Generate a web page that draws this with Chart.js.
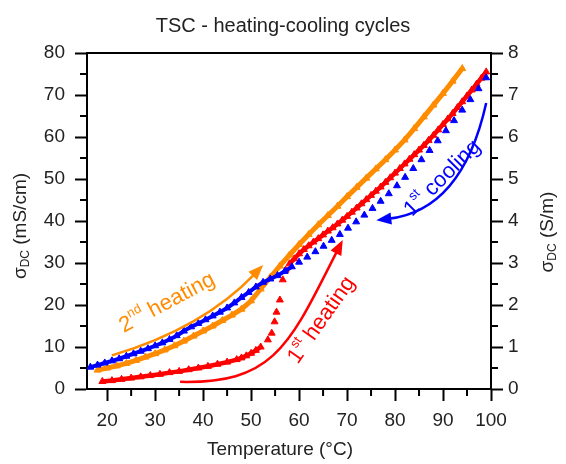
<!DOCTYPE html>
<html>
<head>
<meta charset="utf-8">
<script src="https://cdn.jsdelivr.net/npm/chart.js@4.4.0/dist/chart.umd.min.js"></script>
<style>
html, body { margin: 0; padding: 0; background: #fff; }
</style>
</head>
<body>
<canvas id="tscChart" width="566" height="464"></canvas>
<script>
// 1st heating (red)
const heat1T = [19, 21, 23, 25, 27, 29, 31, 33, 35, 37, 39, 41, 43, 45, 47, 48, 49, 50, 51, 52,
    53.5, 54.3, 54.9, 55.3, 56, 56.6, 57.2, 58, 59, 60, 61, 62, 63, 64, 65, 66, 67, 68, 69, 70,
    71, 72, 73, 74, 75, 76, 77, 78, 79, 80, 81, 82, 83, 84, 85, 86, 87, 88, 89, 90,
    91, 92, 93, 94, 95, 96, 97, 98, 99];
const heat1S = [1.8, 2.0, 2.3, 2.6, 2.9, 3.2, 3.5, 3.9, 4.2, 4.6, 5.0, 5.4, 5.9, 6.4, 7.0, 7.4, 7.9, 8.5, 9.2, 10.0,
    11.7, 13.3, 16.0, 18.3, 21.2, 26.0, 28.3, 29.8, 31.0, 32.2, 33.2, 34.1, 35.0, 35.8, 36.7, 37.6, 38.4, 39.3, 40.2, 41.1,
    42.1, 43.1, 44.1, 45.1, 46.1, 47.1, 48.1, 49.2, 50.3, 51.4, 52.5, 53.6, 54.7, 55.8, 56.9, 58.0, 59.2, 60.4, 61.7, 63.0,
    64.3, 65.6, 67.0, 68.4, 69.8, 71.2, 72.6, 74.0, 75.5];

// 1st cooling (blue)
const cool1T = [16.5, 18, 19.5, 21, 22.5, 24, 25.5, 27, 28.5, 30, 31.5, 33, 34.5, 36, 37.5, 39, 40.5, 42, 43.5, 45,
    46.5, 48, 49.5, 51, 52.5, 54, 55.5, 57, 58.5, 60, 61.7, 63.4, 65.1, 66.8, 68.5, 70.2, 71.9, 73.6, 75.3, 77,
    78.7, 80.4, 82.1, 83.8, 85.5, 87.2, 88.9, 90.6, 92.3, 94, 95.7, 97.4, 99];
const cool1S = [5.2, 5.7, 6.2, 6.7, 7.2, 7.8, 8.4, 9.0, 9.6, 10.3, 11.0, 11.8, 12.7, 13.8, 14.8, 15.6, 16.5, 17.4, 18.3, 19.3,
    20.5, 21.8, 23.0, 24.3, 25.4, 26.2, 27.0, 28.0, 29.1, 30.2, 31.4, 32.7, 34.0, 35.4, 36.8, 38.3, 39.8, 41.4, 43.0, 44.7,
    46.5, 48.4, 50.4, 52.5, 54.6, 56.8, 59.1, 61.5, 63.9, 66.4, 68.9, 71.5, 74.1];

// 2nd heating (orange)
const heat2T = [18, 20, 22, 24, 26, 28, 30, 32, 34, 36, 38, 40, 42, 44, 46, 48, 50, 52, 54, 56,
    58, 60, 62, 64, 66, 68, 70, 72, 74, 76, 78, 80, 82, 84, 86, 88, 90, 92, 94];
const heat2S = [4.5, 5.0, 5.5, 6.1, 6.8, 7.6, 8.4, 9.3, 10.3, 11.4, 12.6, 13.8, 15.0, 16.3, 17.6, 19.0, 21.0, 23.8, 26.6, 29.3,
    31.9, 34.4, 36.8, 39.1, 41.3, 43.5, 45.8, 48.0, 50.2, 52.4, 54.6, 56.9, 59.3, 62.0, 64.8, 67.6, 70.4, 73.3, 76.3];

const xTicks = [20, 30, 40, 50, 60, 70, 80, 90, 100];

const RED = '#ff0000', BLUE = '#0000ff', ORANGE = '#ff8c00';
const FONT = "'Liberation Sans', Arial, sans-serif";

function pts(xs, ys) {
    return xs.map((v, i) => ({ x: v, y: ys[i] }));
}

// text with super/subscripts, centred on (cx, cy), rotated
function richText(ctx, parts, cx, cy, angle, color) {
    ctx.save();
    ctx.translate(cx, cy);
    ctx.rotate(angle);
    ctx.fillStyle = color;
    ctx.textBaseline = 'middle';
    ctx.textAlign = 'left';
    let w = 0;
    parts.forEach(p => { ctx.font = p.s + 'px ' + FONT; p.w = ctx.measureText(p.t).width; w += p.w; });
    let xx = -w / 2;
    parts.forEach(p => {
        ctx.font = p.s + 'px ' + FONT;
        ctx.fillText(p.t, xx, p.dy || 0);
        xx += p.w;
    });
    ctx.restore();
}

function arrow(ctx, xs, ys, p, color) {
    const P = p.map(q => [xs.getPixelForValue(q[0]), ys.getPixelForValue(q[1])]);
    const n = P.length;
    const end = P[n - 1], prev = P[n - 2];
    const ang = Math.atan2(end[1] - prev[1], end[0] - prev[0]);
    const len = 15, half = 6;
    ctx.save();
    ctx.strokeStyle = color;
    ctx.fillStyle = color;
    ctx.lineWidth = 2.5;
    ctx.beginPath();
    ctx.moveTo(P[0][0], P[0][1]);
    const ex = end[0] - Math.cos(ang) * len * 0.8, ey = end[1] - Math.sin(ang) * len * 0.8;
    if (n === 3) ctx.quadraticCurveTo(P[1][0], P[1][1], ex, ey);
    else ctx.bezierCurveTo(P[1][0], P[1][1], P[2][0], P[2][1], ex, ey);
    ctx.stroke();
    ctx.translate(end[0], end[1]);
    ctx.rotate(ang);
    ctx.beginPath();
    ctx.moveTo(0, 0);
    ctx.lineTo(-len, -half);
    ctx.lineTo(-len, half);
    ctx.closePath();
    ctx.fill();
    ctx.restore();
}

const decorations = {
    id: 'decorations',
    afterDatasetsDraw(chart) {
        const { ctx, scales: { x, y } } = chart;
        const px = v => x.getPixelForValue(v), py = v => y.getPixelForValue(v);

        arrow(ctx, x, y, [[21, 8], [40, 14.5], [52.5, 29.5]], ORANGE);
        arrow(ctx, x, y, [[35.2, 1.7], [54.9, 1.2], [58.0, 10.5], [69.1, 35.5]], RED);
        arrow(ctx, x, y, [[99.0, 68.1], [94.0, 42.5], [76.1, 40.2]], BLUE);

        richText(ctx, [{ t: '2', s: 22 }, { t: 'nd', s: 13, dy: -8 }, { t: ' heating', s: 22 }],
            px(32.5), py(20.5), -28 * Math.PI / 180, ORANGE);
        richText(ctx, [{ t: '1', s: 22 }, { t: 'st', s: 13, dy: -8 }, { t: ' heating', s: 22 }],
            px(64.7), py(16.4), -55 * Math.PI / 180, RED);
        richText(ctx, [{ t: '1', s: 22 }, { t: 'st', s: 13, dy: -8 }, { t: ' cooling', s: 22 }],
            px(89.9), py(50.2), -45 * Math.PI / 180, BLUE);
    },
    afterDraw(chart) {
        const { ctx, chartArea: a, scales: { x, y, y2 } } = chart;
        ctx.save();
        ctx.strokeStyle = '#000';
        ctx.lineWidth = 2;
        ctx.beginPath();
        ctx.moveTo(a.left, a.top);
        ctx.lineTo(a.right, a.top);
        ctx.stroke();

        // minor ticks
        ctx.lineWidth = 2;
        ctx.beginPath();
        for (let v = 25; v < 100; v += 10) {
            const p = x.getPixelForValue(v);
            ctx.moveTo(p, a.bottom); ctx.lineTo(p, a.bottom + 7);
        }
        for (let v = 5; v < 80; v += 10) {
            const p = y.getPixelForValue(v);
            ctx.moveTo(a.left, p); ctx.lineTo(a.left - 7, p);
        }
        for (let v = 0.5; v < 8; v += 1) {
            const p = y2.getPixelForValue(v);
            ctx.moveTo(a.right, p); ctx.lineTo(a.right + 7, p);
        }
        ctx.stroke();
        ctx.restore();

        // axis titles
        richText(ctx, [{ t: 'Temperature', s: 19 }, { t: ' (°C)', s: 19 }], 280, 450, 0, '#222');
        richText(ctx, [{ t: 'σ', s: 19 }, { t: 'DC', s: 12, dy: 5 }, { t: ' (mS/cm)', s: 19 }],
            21, 226, -Math.PI / 2, '#222');
        richText(ctx, [{ t: 'σ', s: 19 }, { t: 'DC', s: 12, dy: 5 }, { t: ' (S/m)', s: 19 }],
            548, 232, -Math.PI / 2, '#222');
    }
};

const tickFont = { family: FONT, size: 19 };
const axisGrid = { drawOnChartArea: false, tickLength: 12, tickWidth: 2, tickColor: '#000' };
const axisBorder = { display: true, color: '#000', width: 2 };

new Chart(document.getElementById('tscChart'), {
    type: 'scatter',
    data: {
        datasets: [{
            label: '1st cooling',
            data: pts(cool1T, cool1S),
            showLine: true,
            borderColor: BLUE,
            borderWidth: 4,
            segment: { borderColor: c => c.p0.parsed.x > 57 ? 'transparent' : BLUE },
            pointStyle: 'triangle',
            pointRadius: 4,
            pointBackgroundColor: BLUE,
            pointBorderColor: BLUE,
            pointBorderWidth: 1
        }, {
            label: '2nd heating',
            data: pts(heat2T, heat2S),
            showLine: true,
            borderColor: ORANGE,
            borderWidth: 5,
            pointStyle: 'triangle',
            pointRadius: 4,
            pointBackgroundColor: ORANGE,
            pointBorderColor: ORANGE,
            pointBorderWidth: 1
        }, {
            label: '1st heating',
            data: pts(heat1T, heat1S),
            showLine: true,
            borderColor: RED,
            borderWidth: 4.5,
            segment: { borderColor: c => (c.p0.parsed.x >= 51.9 && c.p1.parsed.x <= 58.1) ? 'transparent' : RED },
            pointStyle: 'triangle',
            pointRadius: 4,
            pointBackgroundColor: RED,
            pointBorderColor: RED,
            pointBorderWidth: 1
        }]
    },
    options: {
        responsive: false,
        animation: false,
        layout: { padding: 0 },
        plugins: {
            legend: { display: false },
            tooltip: { enabled: false },
            title: {
                display: true,
                text: 'TSC - heating-cooling cycles',
                color: '#222',
                font: { family: FONT, size: 20, weight: 'normal' },
                padding: { top: 14, bottom: 15 }
            }
        },
        scales: {
            x: {
                type: 'linear',
                position: 'bottom',
                min: 15.8,
                max: 100,
                afterBuildTicks: s => { s.ticks = xTicks.map(v => ({ value: v })); },
                ticks: { font: tickFont, color: '#222', padding: 8, maxRotation: 0 },
                grid: axisGrid,
                border: axisBorder,
                afterFit: s => { s.height = 75; }
            },
            y: {
                position: 'left',
                min: 0,
                max: 80,
                ticks: { stepSize: 10, font: tickFont, color: '#222', padding: 10 },
                grid: axisGrid,
                border: axisBorder,
                afterFit: s => { s.width = 87; }
            },
            y2: {
                position: 'right',
                min: 0,
                max: 8,
                ticks: { stepSize: 1, font: tickFont, color: '#222', padding: 5 },
                grid: axisGrid,
                border: axisBorder,
                afterFit: s => { s.width = 75; }
            }
        }
    },
    plugins: [decorations]
});
</script>
</body>
</html>
